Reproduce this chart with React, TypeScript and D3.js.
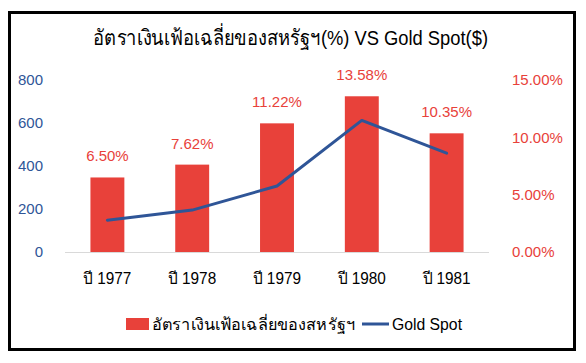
import React from "react";
import * as d3 from "d3";

const years = ["ปี 1977", "ปี 1978", "ปี 1979", "ปี 1980", "ปี 1981"];
const inflation = [6.5, 7.62, 11.22, 13.58, 10.35]; // %
const goldSpot = [148, 195, 307, 612, 460]; // $
const leftTicks = [0, 200, 400, 600, 800];
const rightTicks = [0, 5, 10, 15];

const RED = "#E8413A";
const BLUE = "#2F5597";
const narrow = "'Liberation Sans', Arial, sans-serif";
const plain = "'Liberation Sans', Arial, sans-serif";

const App = () => {
  const W = 586;
  const H = 363;

  const x = d3.scaleBand().domain(years).range([65, 489]).paddingInner(0.6).paddingOuter(0.3);
  const yL = d3.scaleLinear().domain([0, 800]).range([252, 80]);
  const yR = d3.scaleLinear().domain([0, 15]).range([252, 80]);

  const line = d3
    .line<number>()
    .x((_, i) => (x(years[i]) as number) + x.bandwidth() / 2)
    .y((d) => yL(d));

  return (
    <svg width={W} height={H} style={{ position: "absolute", left: 0, top: 0 }}>
      <rect x={0} y={0} width={W} height={H} fill="#fff" />
      <rect x={9.5} y={12.5} width={565} height={337} fill="#fff" stroke="#000" strokeWidth={3} />

      <text x={93} y={45} fontSize={21} fontFamily={narrow} fill="#000" textLength={395} lengthAdjust="spacingAndGlyphs">
        อัตราเงินเฟ้อเฉลี่ยของสหรัฐฯ(%) VS Gold Spot($)
      </text>

      {/* left axis */}
      {leftTicks.map((t) => (
        <text key={t} x={43} y={yL(t)} dy="0.35em" textAnchor="end" fontSize={15} fontFamily={plain} fill={BLUE}>
          {t}
        </text>
      ))}

      {/* right axis */}
      {rightTicks.map((t) => (
        <text key={t} x={512} y={yR(t)} dy="0.35em" textAnchor="start" fontSize={15} fontFamily={plain} fill={RED}>
          {t.toFixed(2)}%
        </text>
      ))}

      <line x1={65} x2={489} y1={252.5} y2={252.5} stroke="#d9d9d9" strokeWidth={1} />

      {inflation.map((v, i) => (
        <g key={years[i]}>
          <rect x={x(years[i])} y={yR(v)} width={x.bandwidth()} height={yR(0) - yR(v)} fill={RED} />
          <text
            x={(x(years[i]) as number) + x.bandwidth() / 2}
            y={yR(v) - 16}
            textAnchor="middle"
            fontSize={15}
            fontFamily={plain}
            fill={RED}
          >
            {v.toFixed(2)}%
          </text>
        </g>
      ))}

      <path d={line(goldSpot) || ""} fill="none" stroke={BLUE} strokeWidth={3} strokeLinejoin="round" strokeLinecap="round" />

      {years.map((c) => (
        <text
          key={c}
          x={(x(c) as number) + x.bandwidth() / 2 - 24}
          y={284}
          fontSize={16}
          fontFamily={narrow}
          fill="#000"
          textLength={48}
          lengthAdjust="spacingAndGlyphs"
        >
          {c}
        </text>
      ))}

      {/* legend */}
      <rect x={126} y={318} width={23} height={12} fill={RED} />
      <text x={152} y={330} fontSize={16} fontFamily={narrow} fill="#000" textLength={203} lengthAdjust="spacingAndGlyphs">
        อัตราเงินเฟ้อเฉลี่ยของสหรัฐฯ
      </text>
      <line x1={362} x2={389} y1={324} y2={324} stroke={BLUE} strokeWidth={3} />
      <text x={392} y={330} fontSize={16} fontFamily={narrow} fill="#000" textLength={70} lengthAdjust="spacingAndGlyphs">
        Gold Spot
      </text>
    </svg>
  );
};

export default App;
